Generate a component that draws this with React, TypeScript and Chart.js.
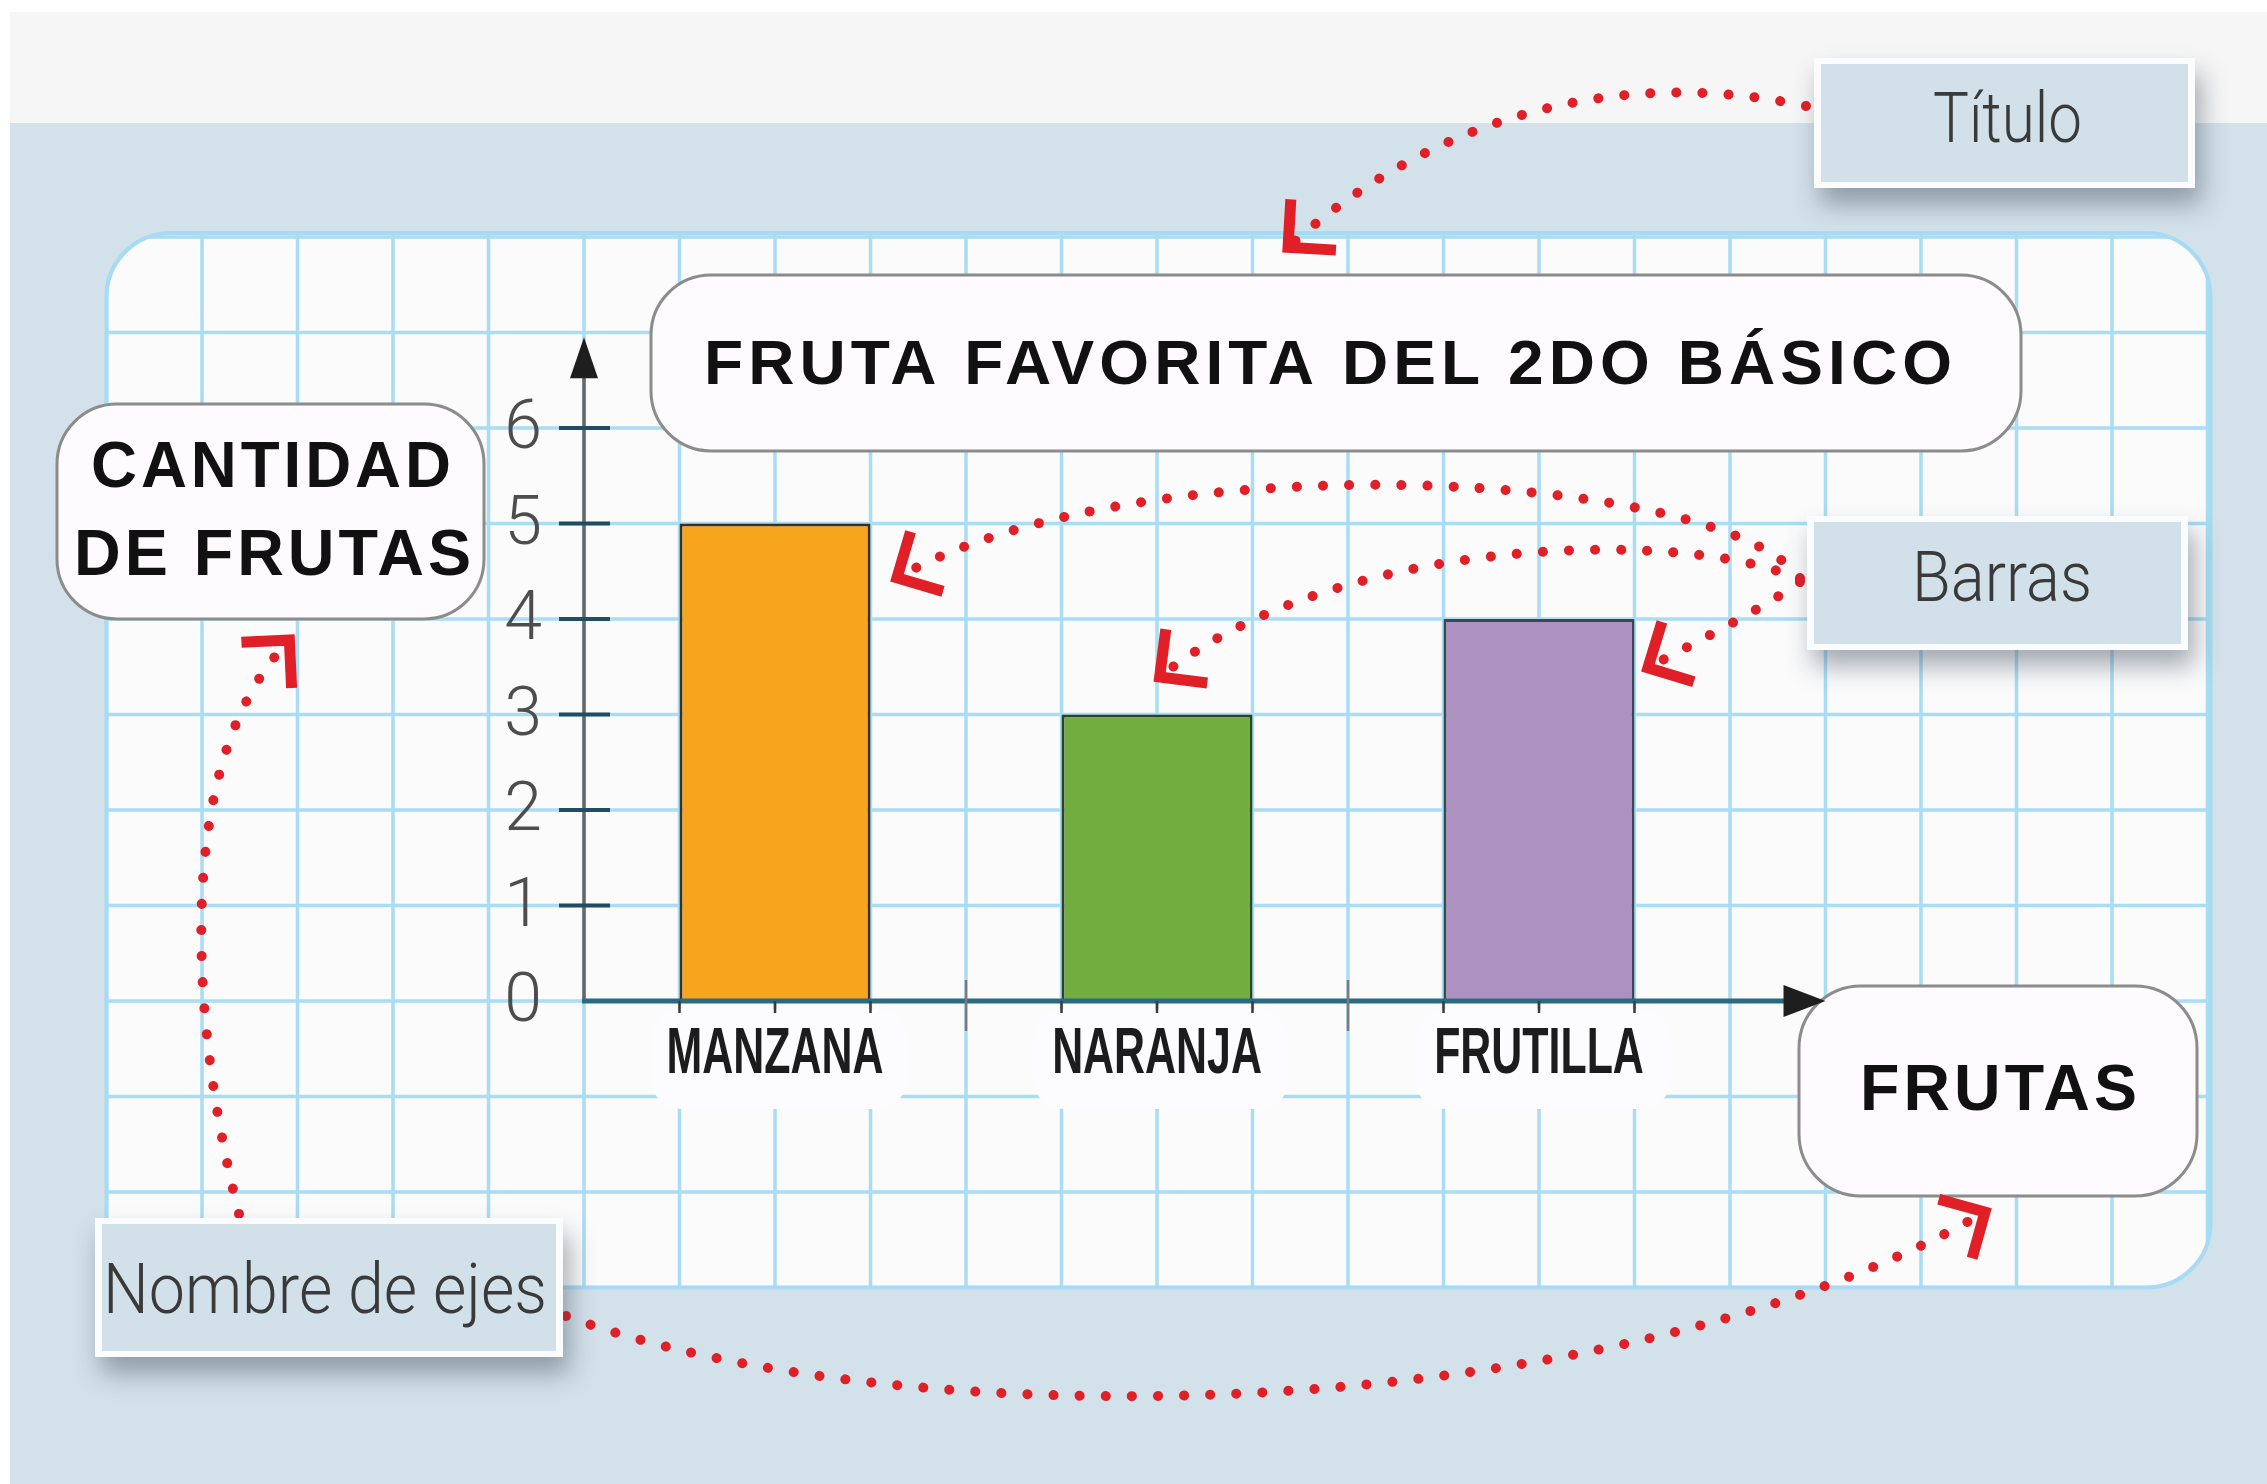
import React, { useEffect, useRef } from 'react';
import { Chart, registerables } from 'chart.js';

Chart.register(...registerables);

// ---------- data ----------
const categories = ['MANZANA', 'NARANJA', 'FRUTILLA'];
const fruitCounts = [5, 3, 4];
const yTickLabels = ['0', '1', '2', '3', '4', '5', '6'];
const chartTitle = 'FRUTA FAVORITA DEL 2DO BÁSICO';
const yAxisTitleLines = ['CANTIDAD', 'DE FRUTAS'];
const xAxisTitle = 'FRUTAS';
const calloutTitle = 'Título';
const calloutBars = 'Barras';
const calloutAxes = 'Nombre de ejes';

// ---------- styles ----------
const barColors = ['#f7a51d', '#72ae3f', '#ad91c0'];
const barBorderColors = ['#3b2f1e', '#2f4226', '#3c4654'];

const W = 2267;
const H = 1484;
const RED = '#e01f27';

type Pt = [number, number];

function roundRectPath(ctx: CanvasRenderingContext2D, x: number, y: number, w: number, h: number, r: number) {
  const rr = Math.min(r, w / 2, h / 2);
  ctx.beginPath();
  ctx.moveTo(x + rr, y);
  ctx.lineTo(x + w - rr, y);
  ctx.arcTo(x + w, y, x + w, y + rr, rr);
  ctx.lineTo(x + w, y + h - rr);
  ctx.arcTo(x + w, y + h, x + w - rr, y + h, rr);
  ctx.lineTo(x + rr, y + h);
  ctx.arcTo(x, y + h, x, y + h - rr, rr);
  ctx.lineTo(x, y + rr);
  ctx.arcTo(x, y, x + rr, y, rr);
  ctx.closePath();
}

function line(ctx: CanvasRenderingContext2D, x1: number, y1: number, x2: number, y2: number) {
  ctx.beginPath();
  ctx.moveTo(x1, y1);
  ctx.lineTo(x2, y2);
  ctx.stroke();
}

function fitText(
  ctx: CanvasRenderingContext2D, text: string, left: number, right: number, baseline: number,
  font: string, color: string, spacing = 0
) {
  ctx.save();
  ctx.font = font;
  (ctx as any).letterSpacing = spacing + 'px';
  ctx.fillStyle = color;
  ctx.textAlign = 'left';
  ctx.textBaseline = 'alphabetic';
  const w = ctx.measureText(text).width - spacing;
  ctx.translate(left, baseline);
  ctx.scale((right - left) / w, 1);
  ctx.fillText(text, 0, 0);
  ctx.restore();
}

function centerScaledText(
  ctx: CanvasRenderingContext2D, text: string, cx: number, baseline: number,
  font: string, color: string, sx: number
) {
  ctx.save();
  ctx.font = font;
  ctx.fillStyle = color;
  ctx.textAlign = 'center';
  ctx.textBaseline = 'alphabetic';
  ctx.translate(cx, baseline);
  ctx.scale(sx, 1);
  ctx.fillText(text, 0, 0);
  ctx.restore();
}

function dottedArrow(ctx: CanvasRenderingContext2D, p: Pt[]) {
  ctx.save();
  ctx.strokeStyle = RED;
  ctx.lineWidth = 10;
  ctx.lineCap = 'round';
  ctx.setLineDash([0.1, 26]);
  ctx.beginPath();
  ctx.moveTo(p[0][0], p[0][1]);
  ctx.bezierCurveTo(p[1][0], p[1][1], p[2][0], p[2][1], p[3][0], p[3][1]);
  ctx.stroke();
  ctx.setLineDash([]);
  // arrow head
  let dx = p[3][0] - p[2][0];
  let dy = p[3][1] - p[2][1];
  const len = Math.hypot(dx, dy);
  dx /= len; dy /= len;
  const tip: Pt = [p[3][0] + dx * 8, p[3][1] + dy * 8];
  const back = Math.atan2(-dy, -dx);
  const L = 48;
  const a1 = back + Math.PI / 4;
  const a2 = back - Math.PI / 4;
  ctx.lineWidth = 11;
  ctx.lineCap = 'butt';
  ctx.lineJoin = 'miter';
  ctx.beginPath();
  ctx.moveTo(tip[0] + Math.cos(a1) * L, tip[1] + Math.sin(a1) * L);
  ctx.lineTo(tip[0], tip[1]);
  ctx.lineTo(tip[0] + Math.cos(a2) * L, tip[1] + Math.sin(a2) * L);
  ctx.stroke();
  ctx.restore();
}

function callout(
  ctx: CanvasRenderingContext2D, x: number, y: number, w: number, h: number,
  text: string, tl: number, tr: number, baseline: number
) {
  ctx.save();
  ctx.shadowColor = 'rgba(60,72,85,0.45)';
  ctx.shadowBlur = 24;
  ctx.shadowOffsetX = 6;
  ctx.shadowOffsetY = 16;
  ctx.fillStyle = '#fbfcfd';
  ctx.fillRect(x, y, w, h);
  ctx.restore();
  ctx.fillStyle = '#d2e0ea';
  ctx.fillRect(x + 7, y + 6, w - 14, h - 12);
  fitText(ctx, text, tl, tr, baseline, '300 70px Roboto, "Liberation Sans", sans-serif', '#3a3a3a');
}

function pill(ctx: CanvasRenderingContext2D, x: number, y: number, w: number, h: number, r: number) {
  roundRectPath(ctx, x, y, w, h, r);
  ctx.fillStyle = '#fdfbfd';
  ctx.fill();
  ctx.strokeStyle = '#8c8c8c';
  ctx.lineWidth = 3;
  ctx.stroke();
}

const decorPlugin = {
  id: 'decor',
  beforeDraw(chart: any) {
    const ctx: CanvasRenderingContext2D = chart.ctx;
    const xs = chart.scales.x;
    const ys = chart.scales.y;
    const x0 = xs.left;
    const y0 = ys.getPixelForValue(0);
    const u = ys.getPixelForValue(0) - ys.getPixelForValue(1);
    ctx.save();
    ctx.fillStyle = '#ffffff';
    ctx.fillRect(0, 0, W, H);
    ctx.fillStyle = '#f6f6f6';
    ctx.fillRect(10, 12, W - 10, 111);
    ctx.fillStyle = '#d3e1ea';
    ctx.fillRect(10, 123, W - 10, H - 123);

    // graph paper panel
    const pl = x0 - 5 * u;
    const pr = x0 + 17 * u + 3;
    const pt = y0 - 8 * u - 4;
    const pb = y0 + 3 * u;
    roundRectPath(ctx, pl, pt, pr - pl, pb - pt, 64);
    ctx.fillStyle = '#fbfbfc';
    ctx.fill();
    ctx.save();
    ctx.clip();
    ctx.strokeStyle = '#a9ddf4';
    ctx.lineWidth = 3.5;
    for (let k = -5; k <= 17; k++) line(ctx, x0 + k * u, pt, x0 + k * u, pb);
    for (let k = -3; k <= 8; k++) line(ctx, pl, y0 - k * u, pr, y0 - k * u);
    ctx.restore();
    roundRectPath(ctx, pl, pt, pr - pl, pb - pt, 64);
    ctx.strokeStyle = '#a6dbf3';
    ctx.lineWidth = 4;
    ctx.stroke();

    // white backgrounds under category labels
    categories.forEach((_, i) => {
      const cx = xs.getPixelForValue(i);
      roundRectPath(ctx, cx - 124, y0 + 8, 256, 100, 30);
      ctx.fillStyle = '#fcfbfd';
      ctx.fill();
    });
    ctx.restore();
  },
  afterDraw(chart: any) {
    const ctx: CanvasRenderingContext2D = chart.ctx;
    const xs = chart.scales.x;
    const ys = chart.scales.y;
    const x0 = xs.left;
    const y0 = ys.getPixelForValue(0);
    const u = ys.getPixelForValue(0) - ys.getPixelForValue(1);
    const meta = chart.getDatasetMeta(0);
    ctx.save();

    // pills (title and axis names)
    pill(ctx, 651, 275, 1370, 176, 60);
    fitText(ctx, chartTitle, 704, 1952, 384, 'bold 63px "Liberation Sans", Arial, sans-serif', '#111111', 5);
    pill(ctx, 57, 404, 427, 215, 60);
    fitText(ctx, yAxisTitleLines[0], 91, 451, 487, 'bold 65px "Liberation Sans", Arial, sans-serif', '#111111', 4);
    fitText(ctx, yAxisTitleLines[1], 74, 471, 575, 'bold 65px "Liberation Sans", Arial, sans-serif', '#111111', 4);
    pill(ctx, 1799, 986, 398, 210, 62);
    fitText(ctx, xAxisTitle, 1860, 2137, 1110, 'bold 64px "Liberation Sans", Arial, sans-serif', '#111111', 4);

    // category labels
    categories.forEach((c, i) => {
      centerScaledText(ctx, c, xs.getPixelForValue(i), y0 + 72, 'bold 65px "Liberation Sans", Arial, sans-serif', '#1c1c1c', 0.66);
    });

    // y axis line and arrow
    const yMaxPx = ys.getPixelForValue(ys.max);
    const yTip = yMaxPx - 0.95 * u;
    ctx.strokeStyle = '#666666';
    ctx.lineWidth = 3.5;
    line(ctx, x0, y0 + 2, x0, yTip + 30);
    ctx.fillStyle = '#1e1e1e';
    ctx.beginPath();
    ctx.moveTo(x0, yTip);
    ctx.lineTo(x0 - 14, yTip + 41);
    ctx.lineTo(x0 + 14, yTip + 41);
    ctx.closePath();
    ctx.fill();

    // y tick marks
    ctx.strokeStyle = '#1f4d63';
    ctx.lineWidth = 4;
    for (let v = 1; v < yTickLabels.length; v++) {
      const py = ys.getPixelForValue(v);
      line(ctx, x0 - 25, py, x0 + 26, py);
    }

    // x axis line and arrow
    const xTip = xs.right + u;
    ctx.strokeStyle = '#2b6a80';
    ctx.lineWidth = 5;
    line(ctx, x0 - 2, y0, xTip - 20, y0);
    ctx.fillStyle = '#1e1e1e';
    ctx.beginPath();
    ctx.moveTo(xTip, y0);
    ctx.lineTo(xTip - 42, y0 - 16);
    ctx.lineTo(xTip - 42, y0 + 16);
    ctx.closePath();
    ctx.fill();

    // category boundary ticks
    ctx.strokeStyle = '#7a7a7a';
    ctx.lineWidth = 2.5;
    for (let i = 0; i < categories.length - 1; i++) {
      const bx = (xs.getPixelForValue(i) + xs.getPixelForValue(i + 1)) / 2;
      line(ctx, bx, y0 - 21, bx, y0 + 30);
    }
    // small ticks at bar edges and centres
    ctx.strokeStyle = '#3a3a3a';
    meta.data.forEach((bar: any) => {
      const w = bar.width;
      [bar.x - w / 2, bar.x, bar.x + w / 2].forEach((tx) => line(ctx, tx, y0, tx, y0 + 12));
    });

    // red dotted arrows
    dottedArrow(ctx, [[1806, 106], [1600, 62], [1420, 130], [1294, 242]]);
    dottedArrow(ctx, [[1800, 578], [1720, 470], [1150, 440], [904, 574]]);
    dottedArrow(ctx, [[1800, 580], [1700, 530], [1350, 530], [1166, 672]]);
    dottedArrow(ctx, [[1800, 582], [1760, 610], [1700, 640], [1655, 664]]);
    dottedArrow(ctx, [[239, 1214], [185, 1000], [180, 760], [284, 646]]);
    dottedArrow(ctx, [[566, 1316], [900, 1440], [1600, 1430], [1978, 1216]]);

    // callout boxes
    callout(ctx, 1814, 58, 381, 130, calloutTitle, 1933, 2082, 142);
    callout(ctx, 1807, 516, 381, 134, calloutBars, 1912, 2092, 601);
    callout(ctx, 95, 1218, 468, 139, calloutAxes, 103, 547, 1313);

    ctx.restore();
  },
};

export default function App() {
  const ref = useRef<HTMLCanvasElement>(null);
  useEffect(() => {
    if (!ref.current) return;
    const chart = new Chart(ref.current, {
      type: 'bar',
      data: {
        labels: categories,
        datasets: [
          {
            data: fruitCounts,
            backgroundColor: barColors,
            borderColor: barBorderColors,
            borderWidth: 3,
            borderSkipped: 'bottom',
            categoryPercentage: 1,
            barPercentage: 0.5,
          },
        ],
      },
      options: {
        animation: false,
        responsive: false,
        devicePixelRatio: 1,
        layout: { padding: { left: 464, right: 537, top: 428, bottom: 483 } },
        plugins: { legend: { display: false }, tooltip: { enabled: false }, title: { display: false } },
        scales: {
          x: {
            type: 'category',
            offset: true,
            grid: { display: false, drawTicks: false },
            border: { display: false },
            ticks: { display: false },
            afterFit: (s: any) => { s.height = 0; },
          },
          y: {
            min: 0,
            max: 6,
            grid: { display: false, drawTicks: false },
            border: { display: false },
            ticks: {
              stepSize: 1,
              padding: 42,
              labelOffset: 3,
              color: '#4d4d4d',
              font: { family: 'Roboto, "Liberation Sans", sans-serif', size: 68, weight: '300' },
              callback: (v: any) => yTickLabels[Number(v)] ?? String(v),
            },
            afterFit: (s: any) => { s.width = 120; },
          },
        },
      },
      plugins: [decorPlugin],
    } as any);
    return () => chart.destroy();
  }, []);
  return (
    <div style={{ position: 'fixed', left: 0, top: 0, width: W, height: H }}>
      <canvas ref={ref} width={W} height={H} style={{ display: 'block', width: W, height: H }} />
    </div>
  );
}
